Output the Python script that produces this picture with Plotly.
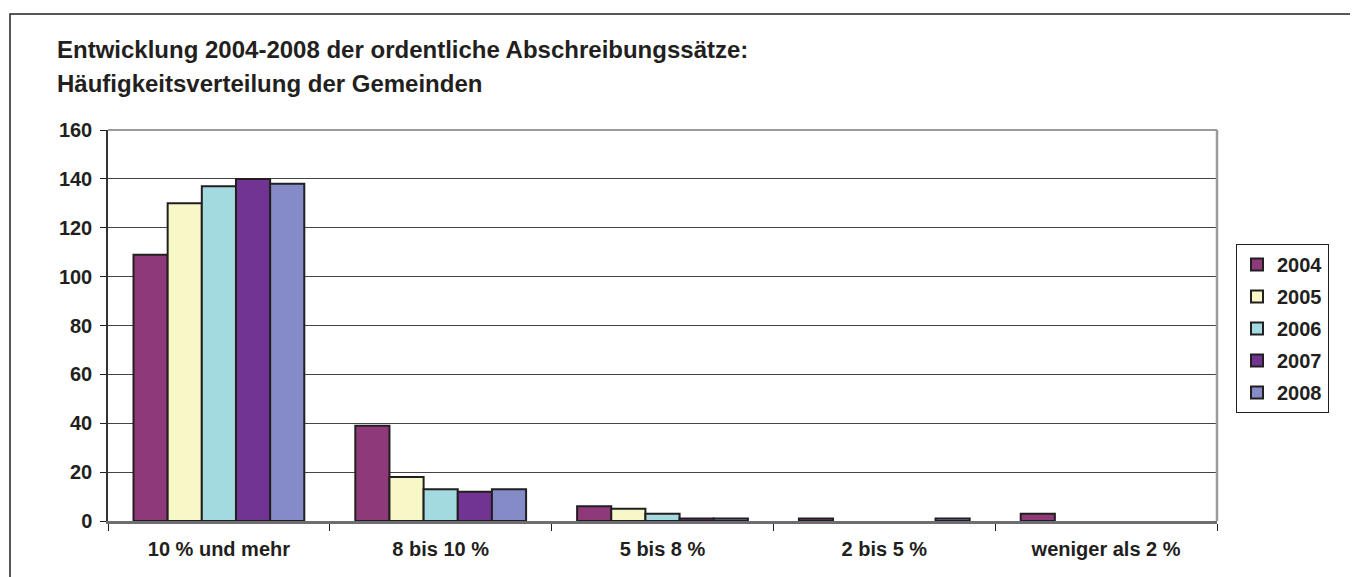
import plotly.graph_objects as go

categories = ["10 % und mehr", "8 bis 10 %", "5 bis 8 %", "2 bis 5 %", "weniger als 2 %"]
years = ["2004", "2005", "2006", "2007", "2008"]
v2004 = [109, 39, 6, 1, 3]
v2005 = [130, 18, 5, 0, 0]
v2006 = [137, 13, 3, 0, 0]
v2007 = [140, 12, 1, 0, 0]
v2008 = [138, 13, 1, 1, 0]
series = [v2004, v2005, v2006, v2007, v2008]
colors = ["#8e3a7a", "#f8f7c8", "#a3dadf", "#713492", "#858bc7"]
yticks = [0, 20, 40, 60, 80, 100, 120, 140, 160]

FONT = "Liberation Sans, Arial, sans-serif"
TXT = "#231f20"

fig = go.Figure()
for name, vals, col in zip(years, series, colors):
    fig.add_trace(go.Bar(
        x=categories, y=vals, name=name, legendgroup=name,
        marker=dict(color=col,
                    line=dict(color=TXT, width=[2 if v > 0 else 0 for v in vals])),
    ))

OFF = 8  # page body margin
W, H = 1358 - OFF, 577 - OFF
L, R, T, B = 108, 1217, 130, 521   # page pixel coordinates of the plot area

def px(x):
    return (x - L) / (R - L)

def py(y):
    return (B - y) / (B - T)

fig.update_layout(
    width=W, height=H,
    margin=dict(l=L - OFF, r=1358 - R, t=T - OFF, b=577 - B, pad=0),
    paper_bgcolor="white", plot_bgcolor="white",
    barmode="group", bargap=0.23, bargroupgap=0,
    font=dict(family=FONT, color=TXT, size=20),
    legend=dict(
        x=px(1236), y=py(244), xanchor="left", yanchor="top",
        bordercolor=TXT, borderwidth=1, bgcolor="white",
        font=dict(size=20, family=FONT, color=TXT, weight="bold"),
        tracegroupgap=3, itemwidth=30,
    ),
    xaxis=dict(
        showgrid=False, showline=True, linecolor="#6d6e71", linewidth=2.5,
        ticks="outside", tickson="boundaries", ticklen=7,
        tickcolor=TXT, tickwidth=1, ticklabelstandoff=8,
        tickfont=dict(size=20, family=FONT, color=TXT, weight="bold"),
    ),
    yaxis=dict(
        range=[0, 160], tickvals=yticks, showgrid=True, gridcolor="#444444",
        gridwidth=1, showline=True, linecolor="#333333", linewidth=1.5,
        ticks="outside", ticklen=6, tickcolor=TXT, tickwidth=1,
        ticklabelstandoff=4,
        tickfont=dict(size=20, family=FONT, color=TXT, weight="bold"),
        zeroline=False,
    ),
    shapes=[
        dict(type="rect", xref="paper", yref="paper",
             x0=px(10), x1=px(1400), y0=py(620), y1=py(14),
             line=dict(color=TXT, width=1.5), fillcolor="rgba(0,0,0,0)", layer="below"),
        dict(type="line", xref="paper", yref="paper", x0=0, x1=1, y0=1, y1=1,
             line=dict(color="#9a9a9a", width=2)),
        dict(type="line", xref="paper", yref="paper", x0=1, x1=1, y0=0, y1=1,
             line=dict(color="#9a9a9a", width=2.5)),
    ],
    annotations=[
        dict(text="Entwicklung 2004-2008 der ordentliche Abschreibungssätze:",
             xref="paper", yref="paper", x=px(55), y=py(49), xanchor="left",
             yanchor="middle", showarrow=False,
             font=dict(size=24, family=FONT, color=TXT, weight="bold")),
        dict(text="Häufigkeitsverteilung der Gemeinden",
             xref="paper", yref="paper", x=px(55), y=py(83), xanchor="left",
             yanchor="middle", showarrow=False,
             font=dict(size=24, family=FONT, color=TXT, weight="bold")),
    ],
)

fig.write_html("out.html")
